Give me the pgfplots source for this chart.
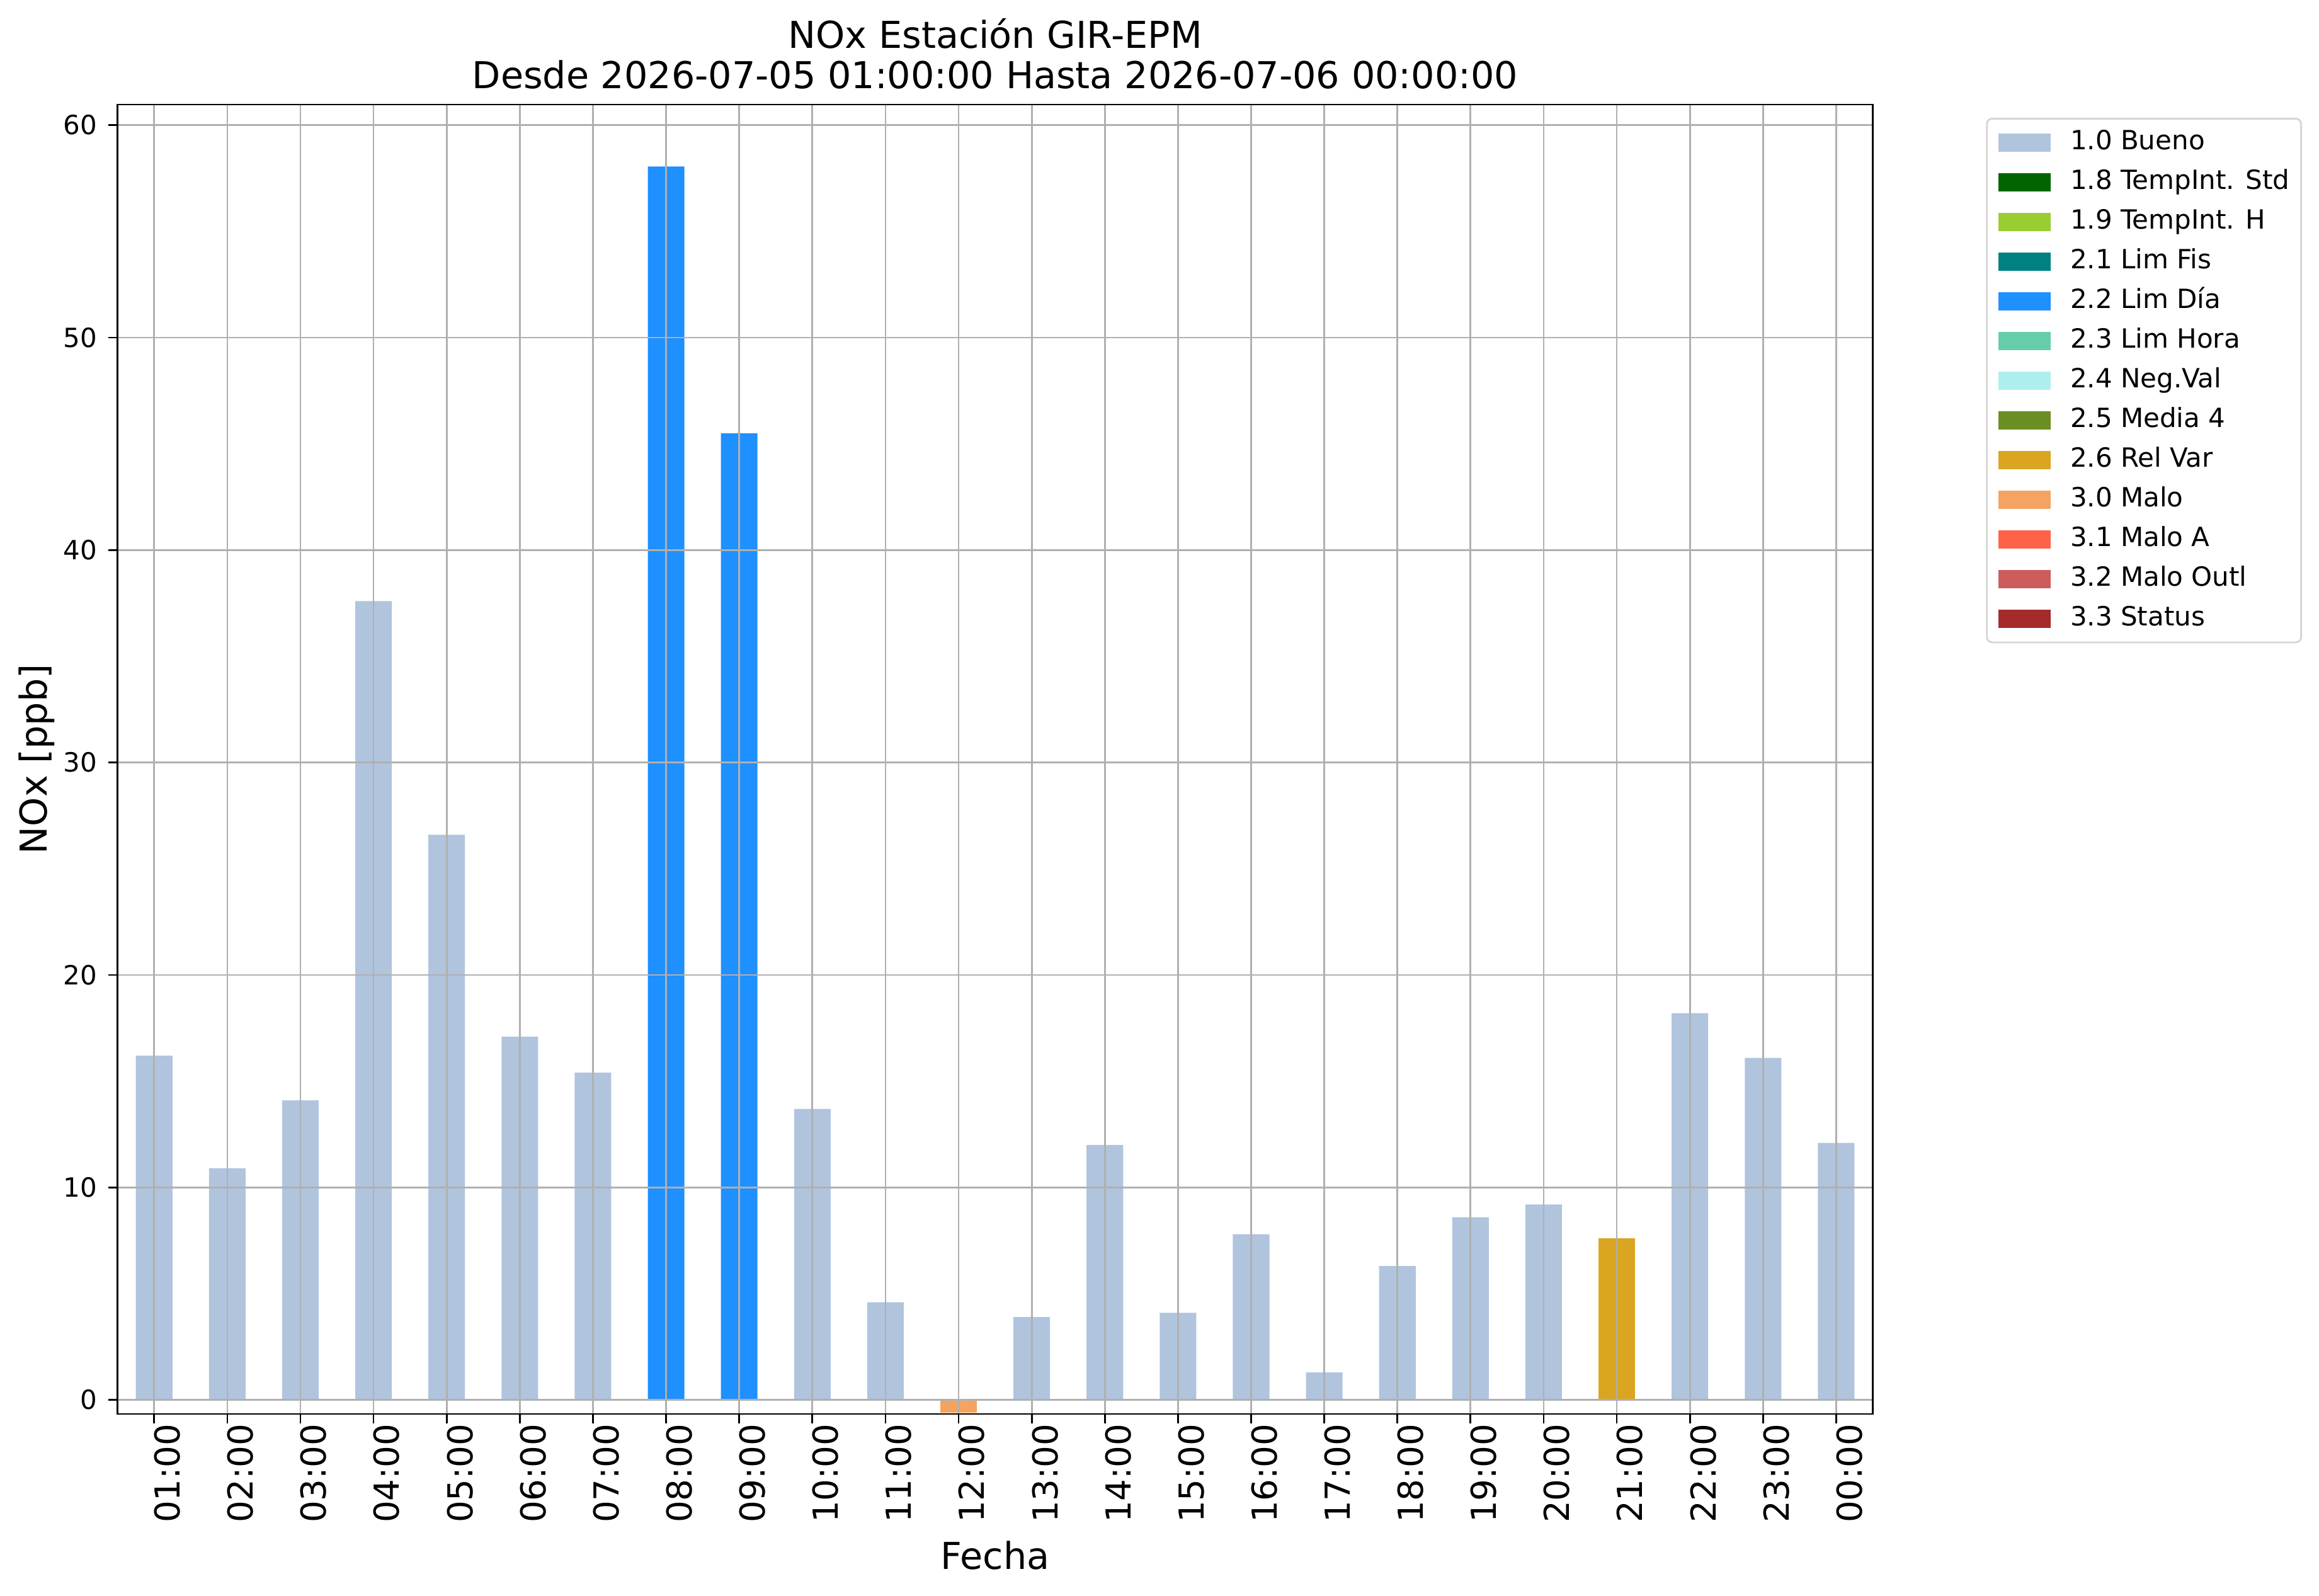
\documentclass[border=0pt]{standalone}
\usepackage{fontspec}
\setmainfont{DejaVu Sans}
\usepackage{pgfplots}
\pgfplotsset{compat=1.18}
\definecolor{c10}{HTML}{B0C4DE}
\definecolor{c18}{HTML}{006400}
\definecolor{c19}{HTML}{9ACD32}
\definecolor{c21}{HTML}{008080}
\definecolor{c22}{HTML}{1E90FF}
\definecolor{c23}{HTML}{66CDAA}
\definecolor{c24}{HTML}{AFEEEE}
\definecolor{c25}{HTML}{6B8E23}
\definecolor{c26}{HTML}{DAA520}
\definecolor{c30}{HTML}{F4A460}
\definecolor{c31}{HTML}{FF6347}
\definecolor{c32}{HTML}{CD5C5C}
\definecolor{c33}{HTML}{A52A2A}
\definecolor{gridgray}{HTML}{B0B0B0}
\definecolor{leggray}{HTML}{D6D6D6}
\begin{document}
\begin{tikzpicture}
\path[use as bounding box] (-44.45pt,-68.8pt) rectangle (832.2pt,534.5pt);
\begin{axis}[
  scale only axis, width=663.5pt, height=495pt,
  xmin=-0.5, xmax=23.5, ymin=-0.66, ymax=60.97,
  ybar, bar width=0.5, bar shift=0pt,
  legend image code/.code={\fill[#1,/tikz/.cd,sharp corners] (0pt,-3.45pt) rectangle (19.8pt,3.45pt);},
  axis on top,
  xtick={0,...,23},
  xticklabels={01:00,02:00,03:00,04:00,05:00,06:00,07:00,08:00,09:00,10:00,11:00,12:00,13:00,14:00,15:00,16:00,17:00,18:00,19:00,20:00,21:00,22:00,23:00,00:00},
  ytick={0,10,20,30,40,50,60},
  grid=major, major grid style={draw=gridgray, line width=0.65pt},
  axis line style={line width=0.65pt},
  tick align=outside, tick pos=left,
  major tick length=3.5pt,
  every tick/.style={black, line width=0.65pt},
  /pgf/number format/assume math mode=true,
  yticklabel style={font=\fontsize{10}{12}\selectfont, inner sep=0pt, xshift=-4pt},
  xticklabel style={font=\fontsize{13}{15}\selectfont, rotate=90, anchor=east, inner sep=0pt, yshift=-5pt},
  xlabel={Fecha},
  xlabel style={font=\fontsize{14}{16}\selectfont, at={(axis description cs:0.5,-0.1186)}, anchor=base},
  ylabel={NOx [ppb]},
  ylabel style={font=\fontsize{14}{16}\selectfont, at={(axis description cs:-0.0404,0.5)}, anchor=base, rotate=0},
  legend style={at={(1,1)}, anchor=north west, xshift=42.8pt, yshift=-5pt,
    draw=leggray, line width=0.7pt, rounded corners=2pt, fill=white,
    font=\fontsize{10}{12}\selectfont, inner xsep=4.3pt, inner ysep=1.5pt,
    row sep=0pt, column sep=7.4pt,
    nodes={inner sep=0pt, text height=10.3pt, text depth=4.7pt}},
  legend cell align=left,
]
\addplot[fill=c10, draw=none] coordinates {
  (0,16.2) (1,10.9) (2,14.1) (3,37.6) (4,26.6) (5,17.1) (6,15.4)
  (9,13.7) (10,4.6) (12,3.9) (13,12.0) (14,4.1) (15,7.8) (16,1.3)
  (17,6.3) (18,8.6) (19,9.2) (21,18.2) (22,16.1) (23,12.1)};
\addlegendentry{1.0 Bueno}
\addlegendimage{fill=c18, draw=none}
\addlegendentry{1.8 TempInt. Std}
\addlegendimage{fill=c19, draw=none}
\addlegendentry{1.9 TempInt. H}
\addlegendimage{fill=c21, draw=none}
\addlegendentry{2.1 Lim Fis}
\addplot[fill=c22, draw=none] coordinates {(7,58.05) (8,45.5)};
\addlegendentry{2.2 Lim Día}
\addlegendimage{fill=c23, draw=none}
\addlegendentry{2.3 Lim Hora}
\addlegendimage{fill=c24, draw=none}
\addlegendentry{2.4 Neg.Val}
\addlegendimage{fill=c25, draw=none}
\addlegendentry{2.5 Media 4}
\addplot[fill=c26, draw=none] coordinates {(20,7.6)};
\addlegendentry{2.6 Rel Var}
\addplot[fill=c30, draw=none] coordinates {(11,-0.61)};
\addlegendentry{3.0 Malo}
\addlegendimage{fill=c31, draw=none}
\addlegendentry{3.1 Malo A}
\addlegendimage{fill=c32, draw=none}
\addlegendentry{3.2 Malo Outl}
\addlegendimage{fill=c33, draw=none}
\addlegendentry{3.3 Status}
\end{axis}
\node[anchor=base, font=\fontsize{14}{16}\selectfont] at (331.75pt,516.4pt) {NOx Estación GIR-EPM};
\node[anchor=base, font=\fontsize{14}{16}\selectfont] at (331.75pt,500.95pt) {Desde 2026-07-05 01:00:00 Hasta 2026-07-06 00:00:00};
\end{tikzpicture}
\end{document}
